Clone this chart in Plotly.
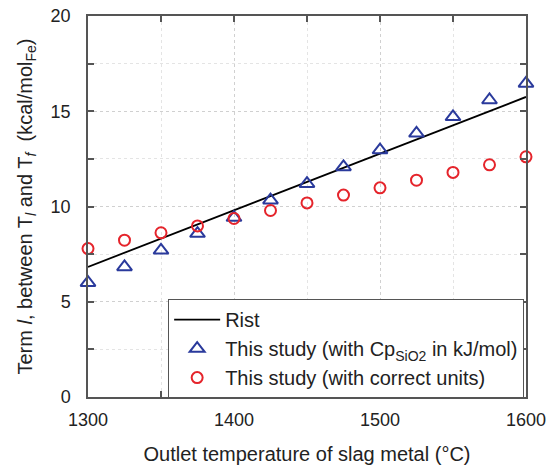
import plotly.graph_objects as go

temps = [1300, 1325, 1350, 1375, 1400, 1425, 1450, 1475, 1500, 1525, 1550, 1575, 1600]
study_kj = [6.0, 6.83, 7.7, 8.58, 9.42, 10.33, 11.2, 12.08, 12.96, 13.84, 14.71, 15.59, 16.46]
study_correct = [7.79, 8.23, 8.62, 8.98, 9.37, 9.79, 10.19, 10.6, 10.98, 11.38, 11.79, 12.19, 12.61]
rist_x = [1300, 1600]
rist_y = [6.83, 15.75]

font = "Liberation Sans, Arial, sans-serif"
fig = go.Figure()
fig.add_trace(go.Scatter(x=rist_x, y=rist_y, mode="lines", name="Rist",
                         line=dict(color="black", width=1.8)))
fig.add_trace(go.Scatter(x=temps, y=study_kj, mode="markers",
                         name="This study (with Cp<sub>SiO2</sub> in kJ/mol)",
                         marker=dict(symbol="triangle-up-open", size=13, color="#2a3a9c",
                                     line=dict(width=2, color="#2a3a9c")), cliponaxis=False))
fig.add_trace(go.Scatter(x=temps, y=study_correct, mode="markers",
                         name="This study (with correct units)",
                         marker=dict(symbol="circle-open", size=11, color="#e5242b",
                                     line=dict(width=2, color="#e5242b")), cliponaxis=False))

axis_common = dict(showline=True, linecolor="#555555", linewidth=1.5, mirror="ticks",
                   ticks="inside", ticklen=6, tickcolor="#555555", tickwidth=1.5,
                   showgrid=True, gridcolor="#d0d0d0", griddash="dot", gridwidth=1,
                   zeroline=False, automargin=False, ticklabeloverflow="allow",
                   tickfont=dict(size=18, color="#222", family=font))

fig.update_xaxes(range=[1300, 1600], dtick=100, tick0=1300, ticklabelstandoff=6,
                 title=dict(text="Outlet temperature of slag metal (°C)",
                            font=dict(size=20, color="#222", family=font), standoff=18),
                 minor=dict(dtick=50, ticks="inside", ticklen=6, tickcolor="#555555",
                            showgrid=True, gridcolor="#e4e4e4", griddash="dot"),
                 **axis_common)
fig.update_yaxes(range=[0, 20], dtick=5, tick0=0, ticklabelstandoff=12,
                 title=dict(text="Term <i>l</i>, between T<sub><i>l</i></sub> and T<sub><i>f</i></sub>  (kcal/mol<sub>Fe</sub>)",
                            font=dict(size=20, color="#222", family=font), standoff=13),
                 minor=dict(dtick=2.5, ticks="inside", ticklen=6, tickcolor="#555555",
                            showgrid=True, gridcolor="#e4e4e4", griddash="dot"),
                 **axis_common)

fig.update_layout(width=549, height=468, margin=dict(l=88, r=23, t=16, b=71),
                  plot_bgcolor="white", paper_bgcolor="white",
                  font=dict(family=font, color="#222"),
                  legend=dict(x=0.183, y=0.257, xanchor="left", yanchor="top",
                              bgcolor="white", bordercolor="#555555", borderwidth=1,
                              font=dict(size=20, family=font, color="#222"),
                              itemwidth=46, tracegroupgap=0))
fig.write_html("out.html", post_script="document.body.style.margin='0';",
               config={"displayModeBar": False})
